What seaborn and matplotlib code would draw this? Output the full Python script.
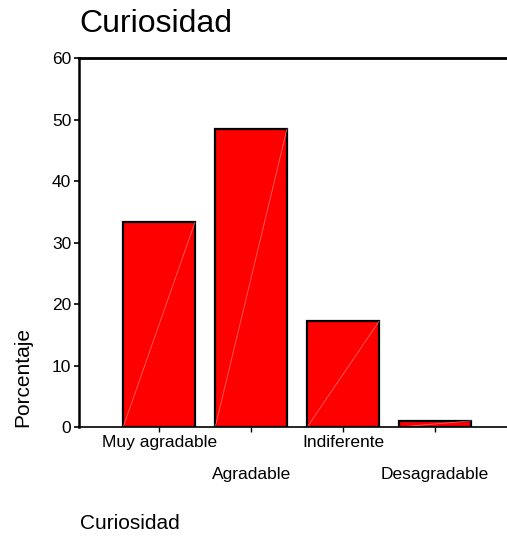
import matplotlib
matplotlib.use("Agg")
import matplotlib.pyplot as plt
import seaborn as sns
import pandas as pd

categories = ["Muy agradable", "Agradable", "Indiferente", "Desagradable"]
percentages = [33.3, 48.5, 17.2, 1.0]
y_ticks = [0, 10, 20, 30, 40, 50, 60]

sns.set_style("ticks")
plt.rcParams['font.family'] = ['Liberation Sans', 'DejaVu Sans']

df = pd.DataFrame({"cat": categories, "pct": percentages})

fig = plt.figure(figsize=(5.07, 5.37), dpi=100)
ax = fig.add_axes([0.1558, 0.2048, 0.8442, 0.6872])

sns.barplot(data=df, x="cat", y="pct", order=categories, color="#ff0000",
            saturation=1, edgecolor="black", linewidth=1.6, width=0.78, ax=ax)

# faint diagonal line inside each bar (SPSS artifact)
for p in ax.patches:
    x0, y0 = p.get_x(), p.get_y()
    ax.plot([x0, x0 + p.get_width()], [y0, y0 + p.get_height()],
            color="#ff9090", lw=0.6, alpha=0.7, zorder=p.get_zorder() + 0.1)

ax.set_xlim(-0.87, 3.78)
ax.set_ylim(0, 60)
ax.set_yticks(y_ticks)
ax.set_yticklabels([str(t) for t in y_ticks])

ax.spines['right'].set_visible(False)
ax.spines['top'].set_visible(True)
ax.spines['top'].set_linewidth(2.0)
ax.spines['left'].set_linewidth(1.8)
ax.spines['bottom'].set_linewidth(1.2)
for s in ax.spines.values():
    s.set_color("black")

ax.tick_params(axis='y', length=3.5, width=1.2, pad=2, labelsize=12.5, colors='black')
ax.tick_params(axis='x', length=3.5, width=1.0, pad=2, labelsize=12.5, colors='black')
for i, t in enumerate(ax.xaxis.get_major_ticks()):
    if i % 2 == 1:
        t.set_pad(2 + 23)

ax.set_xlabel("")
ax.set_ylabel("Porcentaje", fontsize=15, loc="bottom", labelpad=14.5, color="black")
ax.set_title("Curiosidad", fontsize=23, loc="left", pad=18.5, color="black")

fig.text(0.158, 0.008, "Curiosidad", fontsize=15, ha="left", va="bottom", color="black")

fig.savefig("out.png", dpi=100)
